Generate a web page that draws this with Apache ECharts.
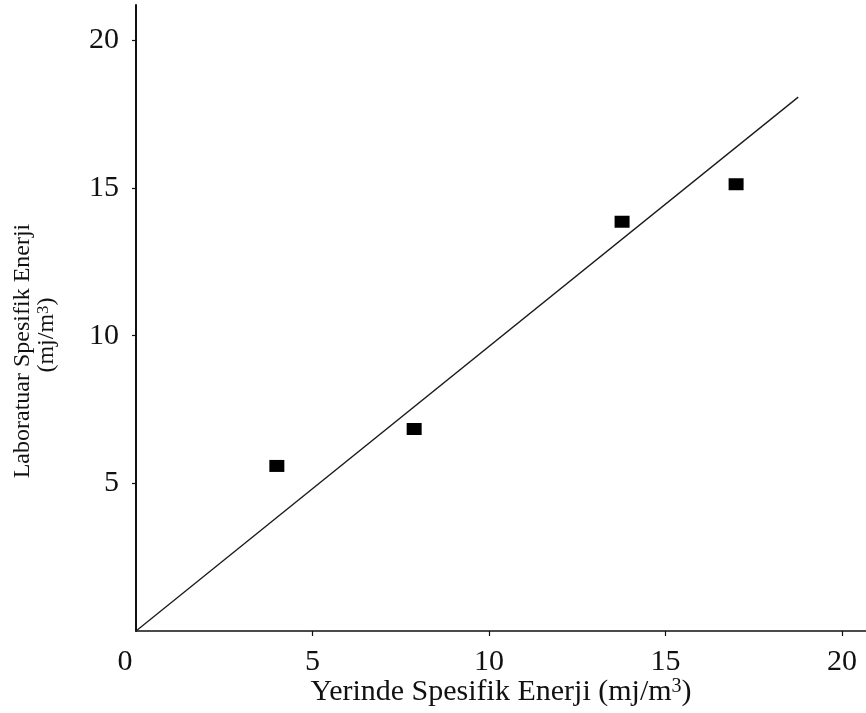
<!DOCTYPE html>
<html>
<head>
<meta charset="utf-8">
<script src="https://cdn.jsdelivr.net/npm/echarts@6/dist/echarts.min.js"></script>
<style>
  html, body { margin: 0; padding: 0; background: #ffffff; }
  #chart { width: 866px; height: 713px; }
</style>
</head>
<body>
<div id="chart"></div>
<script>
// In-situ vs laboratory specific energy (mj/m3)
const fieldEnergy = [3.99, 7.88, 13.77, 17.0];
const labEnergy = [5.59, 6.84, 13.86, 15.13];

// Reference line through the origin
const refLineX = [0, 18.76];
const refLineY = [0, 18.08];

// Axis ticks and labels
const xTickLabels = [0, 5, 10, 15, 20];
const yTickLabels = [5, 10, 15, 20];
const tickMarks = [5, 10, 15, 20];

const FONT = "'Liberation Serif', 'Times New Roman', serif";
const INK = '#111111';

const points = fieldEnergy.map((x, i) => [x, labEnergy[i]]);
const refLine = refLineX.map((x, i) => [x, refLineY[i]]);

const chart = echarts.init(document.getElementById('chart'), null, { renderer: 'canvas' });

chart.setOption({
  backgroundColor: '#ffffff',
  animation: false,
  grid: { left: 136, right: 0, top: 5, bottom: 82, containLabel: false, outerBoundsMode: 'none' },
  xAxis: {
    type: 'value',
    min: 0,
    max: 20.68,
    splitLine: { show: false },
    axisLine: { show: true, onZero: false, lineStyle: { color: INK, width: 1.5 } },
    axisTick: { show: true, inside: false, length: 5, customValues: tickMarks, lineStyle: { color: INK, width: 1.2 } },
    axisLabel: {
      customValues: xTickLabels,
      margin: 16,
      color: INK,
      fontFamily: FONT,
      fontSize: 30,
      formatter: v => (v === 0 ? '{z|0}' : String(v)),
      rich: {
        z: { fontFamily: FONT, fontSize: 30, color: INK, padding: [0, 22, 0, 0] }
      }
    },
    name: '{t|Yerinde Spesifik Enerji (mj/m}{s|3}{t|)}',
    nameLocation: 'middle',
    nameGap: 46,
    nameMoveOverlap: false,
    nameTextStyle: {
      rich: {
        t: { fontFamily: FONT, fontSize: 30, color: INK, lineHeight: 30 },
        s: { fontFamily: FONT, fontSize: 20, color: INK, verticalAlign: 'top', lineHeight: 20 }
      }
    }
  },
  yAxis: {
    type: 'value',
    min: 0,
    max: 21.2,
    splitLine: { show: false },
    axisLine: { show: true, onZero: false, lineStyle: { color: INK, width: 2 } },
    axisTick: { show: true, inside: false, length: 4, customValues: tickMarks, lineStyle: { color: INK, width: 1.2 } },
    axisLabel: {
      customValues: yTickLabels,
      margin: 17,
      color: INK,
      fontFamily: FONT,
      fontSize: 30
    },
    name: '{a|Laboratuar Spesifik Enerji}\n{c|(mj/m}{s|3}{b|)}',
    nameLocation: 'middle',
    nameGap: 77,
    nameMoveOverlap: false,
    nameTextStyle: {
      align: 'center',
      padding: [0, 66, 0, 0],
      rich: {
        a: { fontFamily: FONT, fontSize: 24, color: INK, lineHeight: 24 },
        c: { fontFamily: FONT, fontSize: 24, color: INK, lineHeight: 24, padding: [0, 0, 0, 32] },
        b: { fontFamily: FONT, fontSize: 24, color: INK, lineHeight: 24 },
        s: { fontFamily: FONT, fontSize: 17, color: INK, verticalAlign: 'top', lineHeight: 17 }
      }
    }
  },
  series: [
    {
      type: 'line',
      data: refLine,
      showSymbol: false,
      symbol: 'none',
      silent: true,
      lineStyle: { color: '#1a1a1a', width: 1.3 },
      z: 2
    },
    {
      type: 'scatter',
      data: points,
      symbol: 'rect',
      symbolSize: [15, 12],
      itemStyle: { color: '#000000', opacity: 1 },
      z: 3
    }
  ]
});
</script>
</body>
</html>
